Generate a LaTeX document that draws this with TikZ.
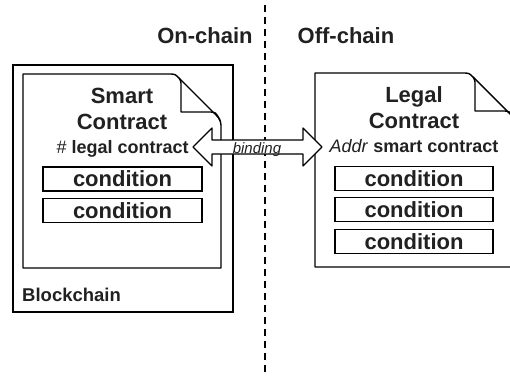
\documentclass[tikz,border=0pt]{standalone}
\usepackage{fontspec}
\setmainfont{Liberation Sans}
\definecolor{inkgray}{gray}{0.13}
\tikzset{
  pageline/.style={line width=1.4pt, line join=round},
  condbox/.style={draw, line width=1.4pt, minimum width=159pt, minimum height=24pt, inner sep=0pt, font=\fontsize{22}{22}\selectfont\bfseries},
  title/.style={font=\fontsize{22}{26}\selectfont\bfseries, inner sep=0pt},
  subline/.style={font=\fontsize{18}{20}\selectfont\bfseries, inner sep=0pt, anchor=base},
}
\begin{document}
\begin{tikzpicture}[x=1pt,y=-1pt,text=inkgray]
\useasboundingbox (0,0) rectangle (510,377);
% on-chain / off-chain split
\draw[line width=1.2pt, dash pattern=on 7pt off 5pt] (265,5) -- (265,375);
\node[title] (onchain) at (205,36) {On-chain};
\node[title] (offchain) at (346,36) {Off-chain};
% blockchain frame
\draw[line width=1.2pt] (13,65) rectangle (233,312);
\node[font=\fontsize{18.5}{20}\selectfont\bfseries, anchor=base west, inner sep=0pt] (chain) at (22,301) {Blockchain};
% smart contract page
\draw[pageline] (23,74) -- (168,74) .. controls (175,74) .. (179,78) -- (216,115) .. controls (220,119) .. (221,125) -- (221,268) -- (23,268) -- cycle;
\draw[pageline] (179,78) .. controls (181,81) .. (181,86) -- (181,112) -- (208,112) .. controls (216,112) .. (220,121);
% legal contract page
\draw[pageline] (315,73) -- (462,73) .. controls (469,73) .. (473,77) -- (510,114) .. controls (514,118) .. (515,124) -- (515,267) -- (315,267) -- cycle;
\draw[pageline] (473,77) .. controls (475,80) .. (475,85) -- (475,111) -- (502,111) .. controls (510,111) .. (514,120);
% binding arrow
\coordinate (tipL) at (193,147);
\coordinate (tipR) at (322,147);
\draw[line width=1.2pt, line join=round, fill=white] (tipL) -- ++(19,-19) -- ++(0,12) -- ++(91,0) -- ++(0,-12) -- (tipR)
	-- ++(-19,19) -- ++(0,-12) -- ++(-91,0) -- ++(0,12) -- cycle;
\node[font=\fontsize{15}{15}\selectfont\itshape, inner sep=0pt, anchor=base] (bindlabel) at (257,153) {binding};
% texts
\node[title, anchor=base] (smart) at (122,103) {Smart};
\node[title, anchor=base] (contractL) at (122,129) {Contract};
\node[subline] (hashline) at (122.5,153) {\textit{\mdseries\#} legal contract};
\node[title, anchor=base] (legal) at (414,102) {Legal};
\node[title, anchor=base] (contractR) at (414,128) {Contract};
\node[subline] (addrline) at (414,152) {\textit{\mdseries Addr} smart contract};
% conditions
\node[condbox] (condL1) at (122.5,179) {condition};
\node[condbox] (condL2) at (122.5,210.5) {condition};
\node[condbox, minimum width=158pt] (condR1) at (414,178.5) {condition};
\node[condbox, minimum width=158pt] (condR2) at (414,209.5) {condition};
\node[condbox, minimum width=158pt] (condR3) at (414,241.5) {condition};
\end{tikzpicture}
\end{document}
